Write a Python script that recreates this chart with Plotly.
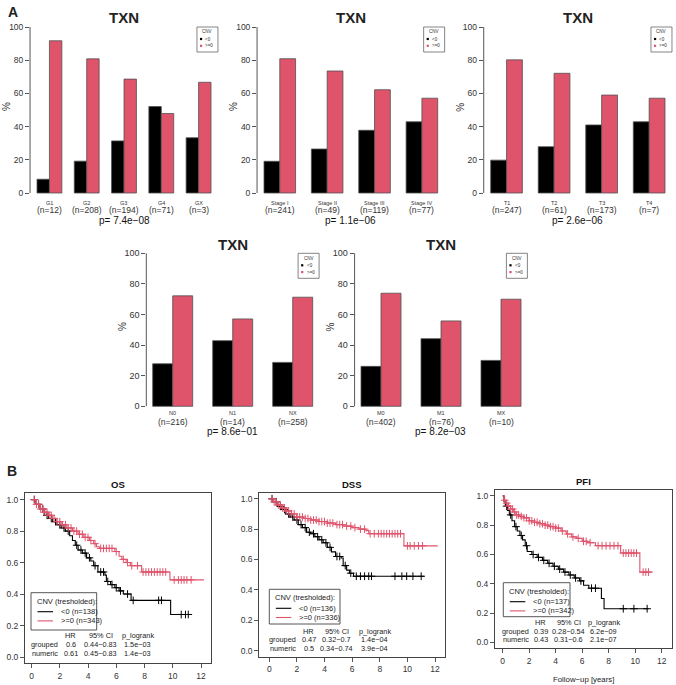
import numpy as np
import plotly.graph_objects as go

W, H = 676, 685
FONT = "Liberation Sans, Arial, sans-serif"
BLACK = "#000000"
RED = "#DF536B"
AXC = "#555555"
TXC = "#222222"

def px(x):
    return x / W

def py(y):
    return 1 - y / H

# ---------------- data: bar panels (percent of samples) ----------------
gene = "TXN"
grade_cats = ["G1", "G2", "G3", "G4", "GX"]
grade_n = [12, 208, 194, 71, 3]
grade_neg = [8.3, 19.2, 31.4, 52.1, 33.3]
grade_pos = [91.7, 80.8, 68.6, 47.9, 66.7]
grade_p = "7.4e\u221208"

stage_cats = ["Stage I", "Stage II", "Stage III", "Stage IV"]
stage_n = [241, 49, 119, 77]
stage_neg = [19.1, 26.5, 37.8, 42.9]
stage_pos = [80.9, 73.5, 62.2, 57.1]
stage_p = "1.1e\u221206"

t_cats = ["T1", "T2", "T3", "T4"]
t_n = [247, 61, 173, 7]
t_neg = [19.8, 27.9, 41.0, 42.9]
t_pos = [80.2, 72.1, 59.0, 57.1]
t_p = "2.6e\u221206"

n_cats = ["N0", "N1", "NX"]
n_n = [216, 14, 258]
n_neg = [27.8, 42.9, 28.7]
n_pos = [72.2, 57.1, 71.3]
n_p = "8.6e\u221201"

m_cats = ["M0", "M1", "MX"]
m_n = [402, 76, 10]
m_neg = [26.1, 44.2, 30.0]
m_pos = [73.9, 55.8, 70.0]
m_p = "8.2e\u221203"

y_ticks = [0, 20, 40, 60, 80, 100]

# ---------------- data: Kaplan-Meier curves ----------------
os_neg_t = [0, 0.3, 0.6, 0.9, 1.2, 1.5, 1.8, 2.1, 2.4, 2.7, 2.9, 3.1, 3.3, 3.6, 3.9, 4.2, 4.4, 4.7, 5.2, 5.3, 5.6, 5.9, 6.2, 6.5, 7.05, 9.85]
os_neg_s = [1.0, 0.97, 0.94, 0.90, 0.88, 0.86, 0.84, 0.82, 0.80, 0.77, 0.74, 0.71, 0.68, 0.66, 0.63, 0.61, 0.58, 0.54, 0.52, 0.48, 0.46, 0.44, 0.42, 0.40, 0.36, 0.27]
os_neg_end = 11.2
os_neg_cens = [0.2, 0.5, 0.8, 1.1, 1.4, 1.7, 2.0, 2.3, 2.6, 3.2, 3.5, 3.8, 4.1, 4.5, 4.9, 5.1, 5.4, 5.7, 6.0, 6.3, 6.8, 7.2, 9.0, 9.2, 10.6, 10.9, 11.1]

os_pos_t = [0, 0.3, 0.6, 0.9, 1.2, 1.5, 1.8, 2.1, 2.5, 2.9, 3.3, 3.7, 4.1, 4.4, 4.6, 4.8, 5.9, 6.2, 6.4, 6.7, 7.0, 7.8, 9.8]
os_pos_s = [1.0, 0.97, 0.94, 0.92, 0.90, 0.88, 0.86, 0.84, 0.82, 0.80, 0.78, 0.76, 0.74, 0.72, 0.70, 0.69, 0.67, 0.64, 0.62, 0.60, 0.58, 0.54, 0.49]
os_pos_end = 12.2
os_pos_cens = [0.2, 0.35, 0.5, 0.65, 0.8, 0.95, 1.1, 1.25, 1.4, 1.6, 1.8, 2.0, 2.2, 2.4, 2.6, 2.8, 3.0, 3.2, 3.4, 3.6, 3.8, 4.0, 4.2, 4.5, 4.9, 5.1, 5.3, 5.5, 5.7, 6.0, 6.5, 6.8, 7.1, 7.5, 7.9, 8.1, 8.3, 8.5, 8.7, 8.9, 9.1, 9.3, 9.5, 10.1, 10.4, 10.6, 10.8, 11.0, 11.3]

dss_neg_t = [0, 0.3, 0.6, 0.9, 1.2, 1.5, 1.8, 2.1, 2.4, 2.7, 3.0, 3.3, 3.6, 3.9, 4.2, 4.5, 4.8, 5.2, 5.35, 5.6, 5.8, 6.1]
dss_neg_s = [1.0, 0.98, 0.95, 0.93, 0.90, 0.88, 0.86, 0.83, 0.81, 0.78, 0.77, 0.75, 0.73, 0.71, 0.68, 0.65, 0.62, 0.61, 0.56, 0.53, 0.51, 0.49]
dss_neg_end = 11.2
dss_neg_cens = [0.2, 0.5, 0.8, 1.1, 1.4, 1.7, 2.0, 2.3, 2.6, 2.9, 3.2, 3.5, 3.8, 4.1, 4.4, 4.9, 5.1, 5.5, 5.9, 6.3, 6.6, 6.9, 7.2, 7.4, 9.1, 9.6, 9.95, 10.4, 11.0]

dss_pos_t = [0, 0.3, 0.6, 0.9, 1.2, 1.6, 2.0, 2.5, 3.0, 3.6, 4.2, 4.8, 5.4, 6.0, 6.5, 7.0, 7.2, 9.75]
dss_pos_s = [1.0, 0.98, 0.96, 0.94, 0.92, 0.90, 0.88, 0.87, 0.86, 0.85, 0.84, 0.83, 0.82, 0.81, 0.80, 0.79, 0.77, 0.69]
dss_pos_end = 12.2
dss_pos_cens = [0.2, 0.35, 0.5, 0.65, 0.8, 0.95, 1.1, 1.25, 1.4, 1.6, 1.8, 2.0, 2.2, 2.4, 2.6, 2.8, 3.0, 3.2, 3.4, 3.6, 3.8, 4.0, 4.2, 4.4, 4.6, 4.9, 5.1, 5.3, 5.6, 5.9, 6.2, 6.6, 6.9, 7.3, 7.6, 7.9, 8.1, 8.3, 8.5, 8.7, 8.9, 9.1, 9.3, 9.5, 10.0, 10.2, 10.5, 10.8, 11.1]

pfi_neg_t = [0, 0.1, 0.2, 0.35, 0.5, 0.7, 0.9, 1.1, 1.3, 1.5, 1.7, 1.85, 2.2, 2.6, 3.0, 3.4, 3.8, 4.2, 4.6, 5.0, 5.4, 5.8, 6.1, 6.5, 7.45, 7.65]
pfi_neg_s = [1.0, 0.96, 0.93, 0.90, 0.87, 0.83, 0.79, 0.76, 0.73, 0.70, 0.66, 0.62, 0.60, 0.58, 0.56, 0.54, 0.52, 0.50, 0.48, 0.46, 0.44, 0.42, 0.39, 0.37, 0.30, 0.23]
pfi_neg_end = 11.0
pfi_neg_cens = [0.3, 0.6, 1.0, 1.4, 1.8, 2.3, 2.7, 3.1, 3.5, 3.9, 4.3, 4.7, 5.1, 5.5, 5.9, 6.7, 7.0, 9.1, 9.9, 10.9]

pfi_pos_t = [0, 0.1, 0.25, 0.4, 0.6, 0.8, 1.0, 1.3, 1.6, 2.0, 2.4, 2.8, 3.2, 3.6, 4.0, 4.4, 4.8, 5.2, 5.6, 6.0, 6.4, 7.0, 8.9, 10.35]
pfi_pos_s = [1.0, 0.97, 0.95, 0.93, 0.91, 0.89, 0.87, 0.86, 0.85, 0.83, 0.82, 0.81, 0.80, 0.79, 0.78, 0.76, 0.74, 0.72, 0.71, 0.69, 0.68, 0.66, 0.61, 0.48]
pfi_pos_end = 11.3
pfi_pos_cens = [0.15, 0.3, 0.45, 0.6, 0.75, 0.9, 1.05, 1.2, 1.4, 1.6, 1.8, 2.0, 2.2, 2.4, 2.6, 2.8, 3.0, 3.2, 3.4, 3.6, 3.8, 4.0, 4.2, 4.5, 4.9, 5.3, 5.7, 6.1, 6.3, 6.6, 7.2, 7.5, 7.8, 8.1, 8.4, 8.7, 9.1, 9.3, 9.5, 9.7, 9.9, 10.1, 10.6, 10.8, 11.0]

km_x_ticks = [0, 2, 4, 6, 8, 10, 12]
km_y_ticks = [0.0, 0.2, 0.4, 0.6, 0.8, 1.0]

# ---------------- layout configuration (pixel geometry) ----------------
bar_panels = [
    dict(cats=grade_cats, n=grade_n, neg=grade_neg, pos=grade_pos, p=grade_p,
         bars=(37, 211), y0=193, y100=27, lab_y=(203, 210.5), p_y=220.5),
    dict(cats=stage_cats, n=stage_n, neg=stage_neg, pos=stage_pos, p=stage_p,
         bars=(264, 437.7), y0=193, y100=27, lab_y=(203, 210.5), p_y=220.5),
    dict(cats=t_cats, n=t_n, neg=t_neg, pos=t_pos, p=t_p,
         bars=(490.7, 665), y0=193, y100=27, lab_y=(203, 210.5), p_y=220.5),
    dict(cats=n_cats, n=n_n, neg=n_neg, pos=n_pos, p=n_p,
         bars=(152.7, 312.7), y0=406.3, y100=253.3, lab_y=(413, 421.5), p_y=431.5),
    dict(cats=m_cats, n=m_n, neg=m_neg, pos=m_pos, p=m_p,
         bars=(361, 521), y0=406.3, y100=253.3, lab_y=(413, 421.5), p_y=431.5),
]

km_panels = [
    dict(title="OS", neg=(os_neg_t, os_neg_s, os_neg_end, os_neg_cens),
         pos=(os_pos_t, os_pos_s, os_pos_end, os_pos_cens),
         box=(25, 210.7, 493.3, 663.3), x0px=31.5, x12px=201,
         leg=(31, 592.7, 96.7, 630), n_neg=138, n_pos=343,
         table_y=(635.7, 644.3, 653.3), cols=(60, 70.5, 100.5, 137.8),
         grouped=("0.6", "0.44\u22120.83", "1.5e\u221203"),
         numeric=("0.61", "0.45\u22120.83", "1.4e\u221203")),
    dict(title="DSS", neg=(dss_neg_t, dss_neg_s, dss_neg_end, dss_neg_cens),
         pos=(dss_pos_t, dss_pos_s, dss_pos_end, dss_pos_cens),
         box=(259.3, 445, 492.7, 656.7), x0px=269.3, x12px=435,
         leg=(269.3, 589.3, 340, 624), n_neg=136, n_pos=336,
         table_y=(631, 639.3, 648.3), cols=(298, 308.5, 336.7, 374.7),
         grouped=("0.47", "0.32\u22120.7", "1.4e\u221204"),
         numeric=("0.5", "0.34\u22120.74", "3.9e\u221204")),
    dict(title="PFI", neg=(pfi_neg_t, pfi_neg_s, pfi_neg_end, pfi_neg_cens),
         pos=(pfi_pos_t, pfi_pos_s, pfi_pos_end, pfi_pos_cens),
         box=(495, 671.7, 490, 648.3), x0px=502.7, x12px=661.7,
         leg=(503.3, 582.7, 570, 616.7), n_neg=137, n_pos=342,
         table_y=(622.7, 631, 639.3), cols=(530.5, 540.5, 568.5, 603.5),
         grouped=("0.39", "0.28\u22120.54", "6.2e\u221209"),
         numeric=("0.43", "0.31\u22120.6", "2.1e\u221207")),
]

fig = go.Figure()
layout = dict(
    width=W, height=H, margin=dict(l=0, r=0, t=0, b=0),
    paper_bgcolor="white", plot_bgcolor="white",
    showlegend=False, barmode="group", bargap=1/3, bargroupgap=0,
    font=dict(family=FONT, color=TXC),
)
annotations = []
shapes = []

def ann(x, y, text, size, bold=False, xanchor="center", yanchor="middle", angle=0, color=TXC):
    annotations.append(dict(
        x=px(x), y=py(y), xref="paper", yref="paper", text=("<b>%s</b>" % text) if bold else text,
        showarrow=False, xanchor=xanchor, yanchor=yanchor, textangle=angle,
        font=dict(family=FONT, size=size, color=color)))

ann(6, 12, "A", 14, bold=True, xanchor="left")
ann(5, 471.5, "B", 14, bold=True, xanchor="left")

# ---------------- bar panels ----------------
for i, bp in enumerate(bar_panels):
    k = i + 1
    xa = "x" if k == 1 else "x%d" % k
    ya = "y" if k == 1 else "y%d" % k
    ncat = len(bp["cats"])
    b0, b1 = bp["bars"]
    ext = 0.04 * (b1 - b0)
    left, right = b0 - ext, b1 + ext
    ppu = (bp["y0"] - bp["y100"]) / 100.0
    top = bp["y100"] - 4 * ppu
    bot = bp["y0"] + 4 * ppu
    cext = 0.04 * (ncat - 1 / 3)
    xr = [-1 / 3 - cext, ncat - 1 + 1 / 3 + cext]

    for vals, col in ((bp["neg"], BLACK), (bp["pos"], RED)):
        fig.add_trace(go.Bar(x=bp["cats"], y=vals, xaxis=xa, yaxis=ya,
                             marker=dict(color=col, line=dict(color="#505050", width=0.8)),
                             hoverinfo="skip"))
    layout["xaxis" if k == 1 else "xaxis%d" % k] = dict(
        domain=[px(left), px(right)], anchor=ya, type="category", range=xr,
        showticklabels=False, ticks="", showline=False, showgrid=False, zeroline=False)
    layout["yaxis" if k == 1 else "yaxis%d" % k] = dict(
        domain=[py(bot), py(top)], anchor=xa, range=[-4, 104],
        tickvals=y_ticks, ticks="outside", ticklen=4, tickcolor=AXC, tickwidth=1,
        tickfont=dict(family=FONT, size=8.5 if k <= 3 else 9, color="#333333"),
        showline=False, showgrid=False, zeroline=False)
    shapes.append(dict(type="line", xref="%s domain" % xa, yref=ya, x0=0, x1=0, y0=0, y1=100,
                       line=dict(color=AXC, width=1)))

    ann((left + right) / 2, bp["y100"] - 9, gene, 15, bold=True)
    ann(left - 24, (bp["y0"] + bp["y100"]) / 2 - 3, "%", 10, angle=-90, color="#333333")

    for c, nn in zip(bp["cats"], bp["n"]):
        annotations.append(dict(x=c, y=py(bp["lab_y"][0]), xref=xa, yref="paper", text=c,
                                showarrow=False, xanchor="center", yanchor="middle",
                                font=dict(family=FONT, size=5.5, color="#333333")))
        annotations.append(dict(x=c, y=py(bp["lab_y"][1]), xref=xa, yref="paper", text="(n=%d)" % nn,
                                showarrow=False, xanchor="center", yanchor="middle",
                                font=dict(family=FONT, size=8.5, color="#333333")))
    ann((left + right) / 2, bp["p_y"], "p= " + bp["p"], 10, color="#111111")

    lx1 = right
    lx0 = right - 21
    ly0 = bp["y100"]
    ly1 = ly0 + 25
    shapes.append(dict(type="rect", xref="paper", yref="paper", x0=px(lx0), x1=px(lx1),
                       y0=py(ly0), y1=py(ly1), line=dict(color="#666666", width=0.8)))
    ann((lx0 + lx1) / 2, ly0 + 4.7, "CNV", 4.5, color="#333333")
    for j, (lab, col) in enumerate((("&lt;0", BLACK), ("&gt;=0", RED))):
        yy = ly0 + 12 + j * 6.8
        shapes.append(dict(type="rect", xref="paper", yref="paper", x0=px(lx0 + 3), x1=px(lx0 + 5.2),
                           y0=py(yy - 1.1), y1=py(yy + 1.1), line=dict(width=0), fillcolor=col))
        ann(lx0 + 6.5, yy, lab, 4.5, xanchor="left", color="#333333")

# ---------------- Kaplan-Meier panels ----------------
def step_value(times, surv, t):
    idx = np.searchsorted(np.asarray(times), t, side="right") - 1
    return np.asarray(surv)[idx]

LEGF = 7.5
TABF = 7.3
for i, kp in enumerate(km_panels):
    k = i + 6
    xa, ya = "x%d" % k, "y%d" % k
    bx0, bx1, by0, by1 = kp["box"]
    ppy = 12.0 / (kp["x12px"] - kp["x0px"])
    xr = [(bx0 - kp["x0px"]) * ppy, (bx1 - kp["x0px"]) * ppy]
    for (tt, ss, tend, cens), col in ((kp["neg"], BLACK), (kp["pos"], RED)):
        fig.add_trace(go.Scatter(x=list(tt) + [tend], y=list(ss) + [ss[-1]], mode="lines",
                                 line=dict(color=col, width=1.1, shape="hv"),
                                 xaxis=xa, yaxis=ya, hoverinfo="skip"))
        cy = step_value(tt, ss, np.asarray(cens))
        fig.add_trace(go.Scatter(x=cens, y=cy, mode="markers",
                                 marker=dict(symbol="cross-thin", size=5.5, color=col,
                                             line=dict(color=col, width=1)),
                                 xaxis=xa, yaxis=ya, hoverinfo="skip"))
    layout["xaxis%d" % k] = dict(
        domain=[px(bx0), px(bx1)], anchor=ya, range=xr, tickvals=km_x_ticks,
        ticks="outside", ticklen=4, tickcolor=AXC, showline=True, mirror=True,
        linecolor="#444444", linewidth=1, showgrid=False, zeroline=False,
        tickfont=dict(family=FONT, size=8.5, color="#333333"))
    layout["yaxis%d" % k] = dict(
        domain=[py(by1), py(by0)], anchor=xa, range=[-0.04, 1.04], tickvals=km_y_ticks,
        tickformat=".1f", ticks="outside", ticklen=4, tickcolor=AXC, showline=True, mirror=True,
        linecolor="#444444", linewidth=1, showgrid=False, zeroline=False,
        tickfont=dict(family=FONT, size=8.5, color="#333333"))
    ann((bx0 + bx1) / 2, by0 - 8.5, kp["title"], 9.5, bold=True, color="#111111")

    lx0, ly0, lx1, ly1 = kp["leg"]
    shapes.append(dict(type="rect", xref="paper", yref="paper", x0=px(lx0), x1=px(lx1),
                       y0=py(ly0), y1=py(ly1), line=dict(color="#444444", width=0.9),
                       fillcolor="white"))
    ann(lx0 + 4, ly0 + 8.3, "CNV (tresholded):", LEGF, xanchor="left")
    for j, (lab, col) in enumerate((("&lt;0 (n=%d)" % kp["n_neg"], BLACK),
                                     ("&gt;=0 (n=%d)" % kp["n_pos"], RED))):
        yy = ly0 + 19 + j * 9.2
        shapes.append(dict(type="line", xref="paper", yref="paper", x0=px(lx0 + 6.5), x1=px(lx0 + 22),
                           y0=py(yy), y1=py(yy), line=dict(color=col, width=1.1)))
        ann(lx0 + 27.5, yy, lab, LEGF, xanchor="left")

    c0, c1, c2, c3 = kp["cols"]
    ty = kp["table_y"]
    ann(c1, ty[0], "HR", TABF)
    ann(c2, ty[0], "95% CI", TABF)
    ann(c3, ty[0], "p_logrank", TABF)
    for row, (lab, vals) in enumerate((("grouped", kp["grouped"]), ("numeric", kp["numeric"]))):
        yy = ty[row + 1]
        ann(c0, yy, lab, TABF, xanchor="right")
        ann(c1, yy, vals[0], TABF)
        ann(c2, yy, vals[1], TABF)
        ann(c3, yy, vals[2], TABF)

ann(583.3, 679, "Follow\u2212up [years]", 7.8)

layout["annotations"] = annotations
layout["shapes"] = shapes
fig.update_layout(**layout)
fig.write_html("out.html", config={"displayModeBar": False},
               post_script="document.body.style.margin='0px';document.body.style.padding='0px';")
